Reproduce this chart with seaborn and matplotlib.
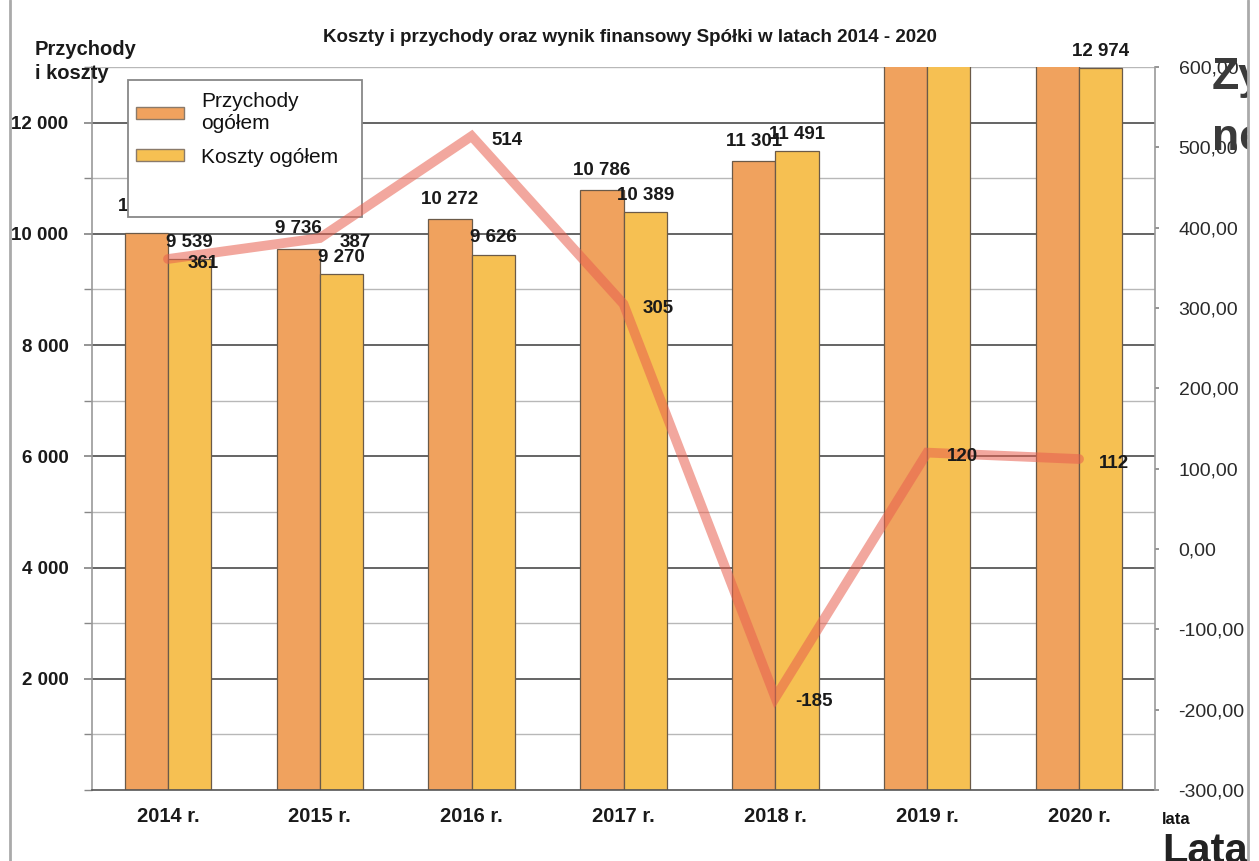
import numpy as np
import pandas as pd
import matplotlib
matplotlib.use("Agg")
import matplotlib.pyplot as plt
from matplotlib.patches import Patch, Rectangle
from matplotlib.lines import Line2D
import seaborn as sns

# ---- data ----
years = ['2014 r.', '2015 r.', '2016 r.', '2017 r.', '2018 r.', '2019 r.', '2020 r.']
przychody = [10020, 9736, 10272, 10786, 11301, 13450, 13086]
koszty = [9539, 9270, 9626, 10389, 11491, 13330, 12974]
wynik = [361, 387, 514, 305, -185, 120, 112]
przychody_labels = ['10 020', '9 736', '10 272', '10 786', '11 301', '', '']
koszty_labels = ['9 539', '9 270', '9 626', '10 389', '11 491', '', '12 974']
left_ticks = [2000, 4000, 6000, 8000, 10000, 12000]
left_ticklabels = ['2 000', '4 000', '6 000', '8 000', '10 000', '12 000']
right_ticks = [-300, -200, -100, 0, 100, 200, 300, 400, 500, 600]
series_names = ['Przychody\nogółem', 'Koszty ogółem']

sns.set_theme(style='white')
NARROW = ['Liberation Sans Narrow', 'Liberation Sans', 'DejaVu Sans']
plt.rcParams['font.family'] = ['Liberation Sans', 'DejaVu Sans']

C_P = '#F0A25E'
C_K = '#F6C052'
C_LINE = '#E8604E'

df = pd.DataFrame({
    'rok': years * 2,
    'wartosc': przychody + koszty,
    'seria': [series_names[0]] * len(years) + [series_names[1]] * len(years),
})

W, H = 1259, 861
fig = plt.figure(figsize=(W / 100, H / 100), dpi=100)
fig.patch.set_facecolor('white')
L, R, T, B = 92, 1155, 67, 790
ax = fig.add_axes([L / W, 1 - B / H, (R - L) / W, (B - T) / H])

sns.barplot(data=df, x='rok', y='wartosc', hue='seria', palette=[C_P, C_K],
            width=0.57, gap=0, edgecolor='#6b5a48', linewidth=0.9,
            saturation=1, ax=ax, legend=False, zorder=2)

ax.set_xlim(-0.5, 6.5)
ax.set_ylim(0, 13000)
ax.set_xlabel('')
ax.set_ylabel('')
ax.set_yticks(left_ticks)
ax.set_yticklabels(left_ticklabels)
ax.set_yticks(list(range(1000, 13001, 2000)) + [0], minor=True)
ax.grid(True, which='major', axis='y', color='#4a4a4a', linewidth=1.2, zorder=0)
ax.grid(True, which='minor', axis='y', color='#b8b8b8', linewidth=1.0, zorder=0)
ax.grid(False, axis='x')
ax.set_axisbelow(True)
ax.set_xticks(np.arange(0.5, 6, 1.0), minor=True)
ax.tick_params(axis='x', which='major', length=0, pad=12)
ax.tick_params(axis='x', which='minor', length=4, color='#555555', direction='out')
ax.tick_params(axis='y', which='both', left=True, length=6, color='#888888',
               direction='out', pad=11)
for lab in ax.get_yticklabels():
    lab.set_family(NARROW)
    lab.set_fontweight('bold')
    lab.set_fontsize(13.5)
    lab.set_color('#1a1a1a')
for lab in ax.get_xticklabels():
    lab.set_family(NARROW)
    lab.set_fontweight('bold')
    lab.set_fontsize(14.5)
    lab.set_color('#1a1a1a')
for side in ['top', 'right']:
    ax.spines[side].set_visible(False)
ax.spines['left'].set_color('#999999')
ax.spines['left'].set_linewidth(1.2)
ax.spines['bottom'].set_color('#555555')
ax.spines['bottom'].set_linewidth(1.2)

# bar labels
p_anns = ax.bar_label(ax.containers[0], labels=przychody_labels, padding=8,
                      family=NARROW, fontweight='bold', fontsize=13.5,
                      color='#1a1a1a', clip_on=False, zorder=3)
ax.bar_label(ax.containers[1], labels=koszty_labels, padding=6,
             family=NARROW, fontweight='bold', fontsize=13.5, color='#1a1a1a',
             clip_on=False, zorder=3)
# the first label sits a little higher (mostly hidden by the legend box)
p_anns[0].xyann = (p_anns[0].xyann[0], p_anns[0].xyann[1] + 5)

# legend box (drawn as a frame) and legend entries
x0 = (128 - L) / (R - L)
x1 = (362 - L) / (R - L)
y1 = (B - 80) / (B - T)
y0 = (B - 217) / (B - T)
ax.add_patch(Rectangle((x0, y0), x1 - x0, y1 - y0, transform=ax.transAxes,
                       facecolor='white', edgecolor='#888888', linewidth=1.3,
                       zorder=8, clip_on=False))
handles = [Patch(facecolor=C_P, edgecolor='#8a7a6a', linewidth=1.0),
           Patch(facecolor=C_K, edgecolor='#8a7a6a', linewidth=1.0)]
leg = ax.legend(handles, series_names, loc='upper left',
                bbox_to_anchor=(x0 + 0.002, y1 - 0.008), frameon=False,
                fontsize=15, handlelength=2.3, handleheight=0.5,
                borderpad=0.3, labelspacing=0.7, handletextpad=0.8,
                borderaxespad=0)
leg.set_zorder(10)
for t in leg.get_texts():
    t.set_family(NARROW)
    t.set_fontsize(15)
    t.set_color('#111111')

# secondary axis: net result line
ax2 = ax.twinx()
sns.lineplot(x=np.arange(len(wynik)), y=wynik, ax=ax2, color=C_LINE,
             alpha=0.55, linewidth=7, solid_joinstyle='miter', legend=False)
ax2.set_ylim(-300, 600)
ax2.set_yticks(right_ticks)
ax2.set_yticklabels([f'{v:,.2f}'.replace('.', ',') for v in right_ticks])
ax2.tick_params(axis='y', right=True, length=3, color='#888888', direction='out',
                pad=14, labelsize=14, labelcolor='#2a2a2a')
ax2.set_ylabel('')
ax2.grid(False)
for side in ['top', 'left', 'bottom']:
    ax2.spines[side].set_visible(False)
ax2.spines['right'].set_color('#999999')
ax2.spines['right'].set_linewidth(1.2)
for x, v in zip(np.arange(len(wynik)), wynik):
    ax2.annotate(f'{v}', (x, v), xytext=(14, -3), textcoords='offset points',
                 ha='left', va='center', family=NARROW, fontweight='bold',
                 fontsize=13.5, color='#1a1a1a')

# titles / axis captions
fig.text(630 / W, 1 - 38 / H,
         'Koszty i przychody oraz wynik finansowy Spółki w latach 2014 - 2020',
         ha='center', va='center', family=NARROW, fontweight='bold',
         fontsize=13.5, color='#1a1a1a')
fig.text(35 / W, 1 - 40 / H, 'Przychody\ni koszty', ha='left', va='top',
         family=NARROW, fontweight='bold', fontsize=14.5, color='#1a1a1a',
         linespacing=1.35)
fig.text(1212 / W, 1 - 78 / H, 'Zysk', ha='left', va='center',
         fontweight='bold', fontsize=32, color='#3a3a3a')
fig.text(1212 / W, 1 - 138 / H, 'netto', ha='left', va='center',
         fontweight='bold', fontsize=32, color='#3a3a3a')
fig.text(1162 / W, 1 - 852 / H, 'Lata', ha='left', va='center',
         fontweight='bold', fontsize=30, color='#222222')
fig.text(1162 / W, 1 - 820 / H, 'lata', ha='left', va='center',
         family=NARROW, fontweight='bold', fontsize=12, color='#111111')

# outer frame, hide overflow beyond right frame edge
fig.patches.append(Rectangle((1249 / W, 0), 1 - 1249 / W, 1,
                             transform=fig.transFigure, facecolor='white',
                             edgecolor='none', zorder=20))
fig.lines.append(Line2D([10 / W, 10 / W], [0, 1], transform=fig.transFigure,
                        color='#aaaaaa', linewidth=2, zorder=21))
fig.lines.append(Line2D([1248 / W, 1248 / W], [0, 1], transform=fig.transFigure,
                        color='#aaaaaa', linewidth=2, zorder=21))

fig.savefig('out.png', dpi=100)
